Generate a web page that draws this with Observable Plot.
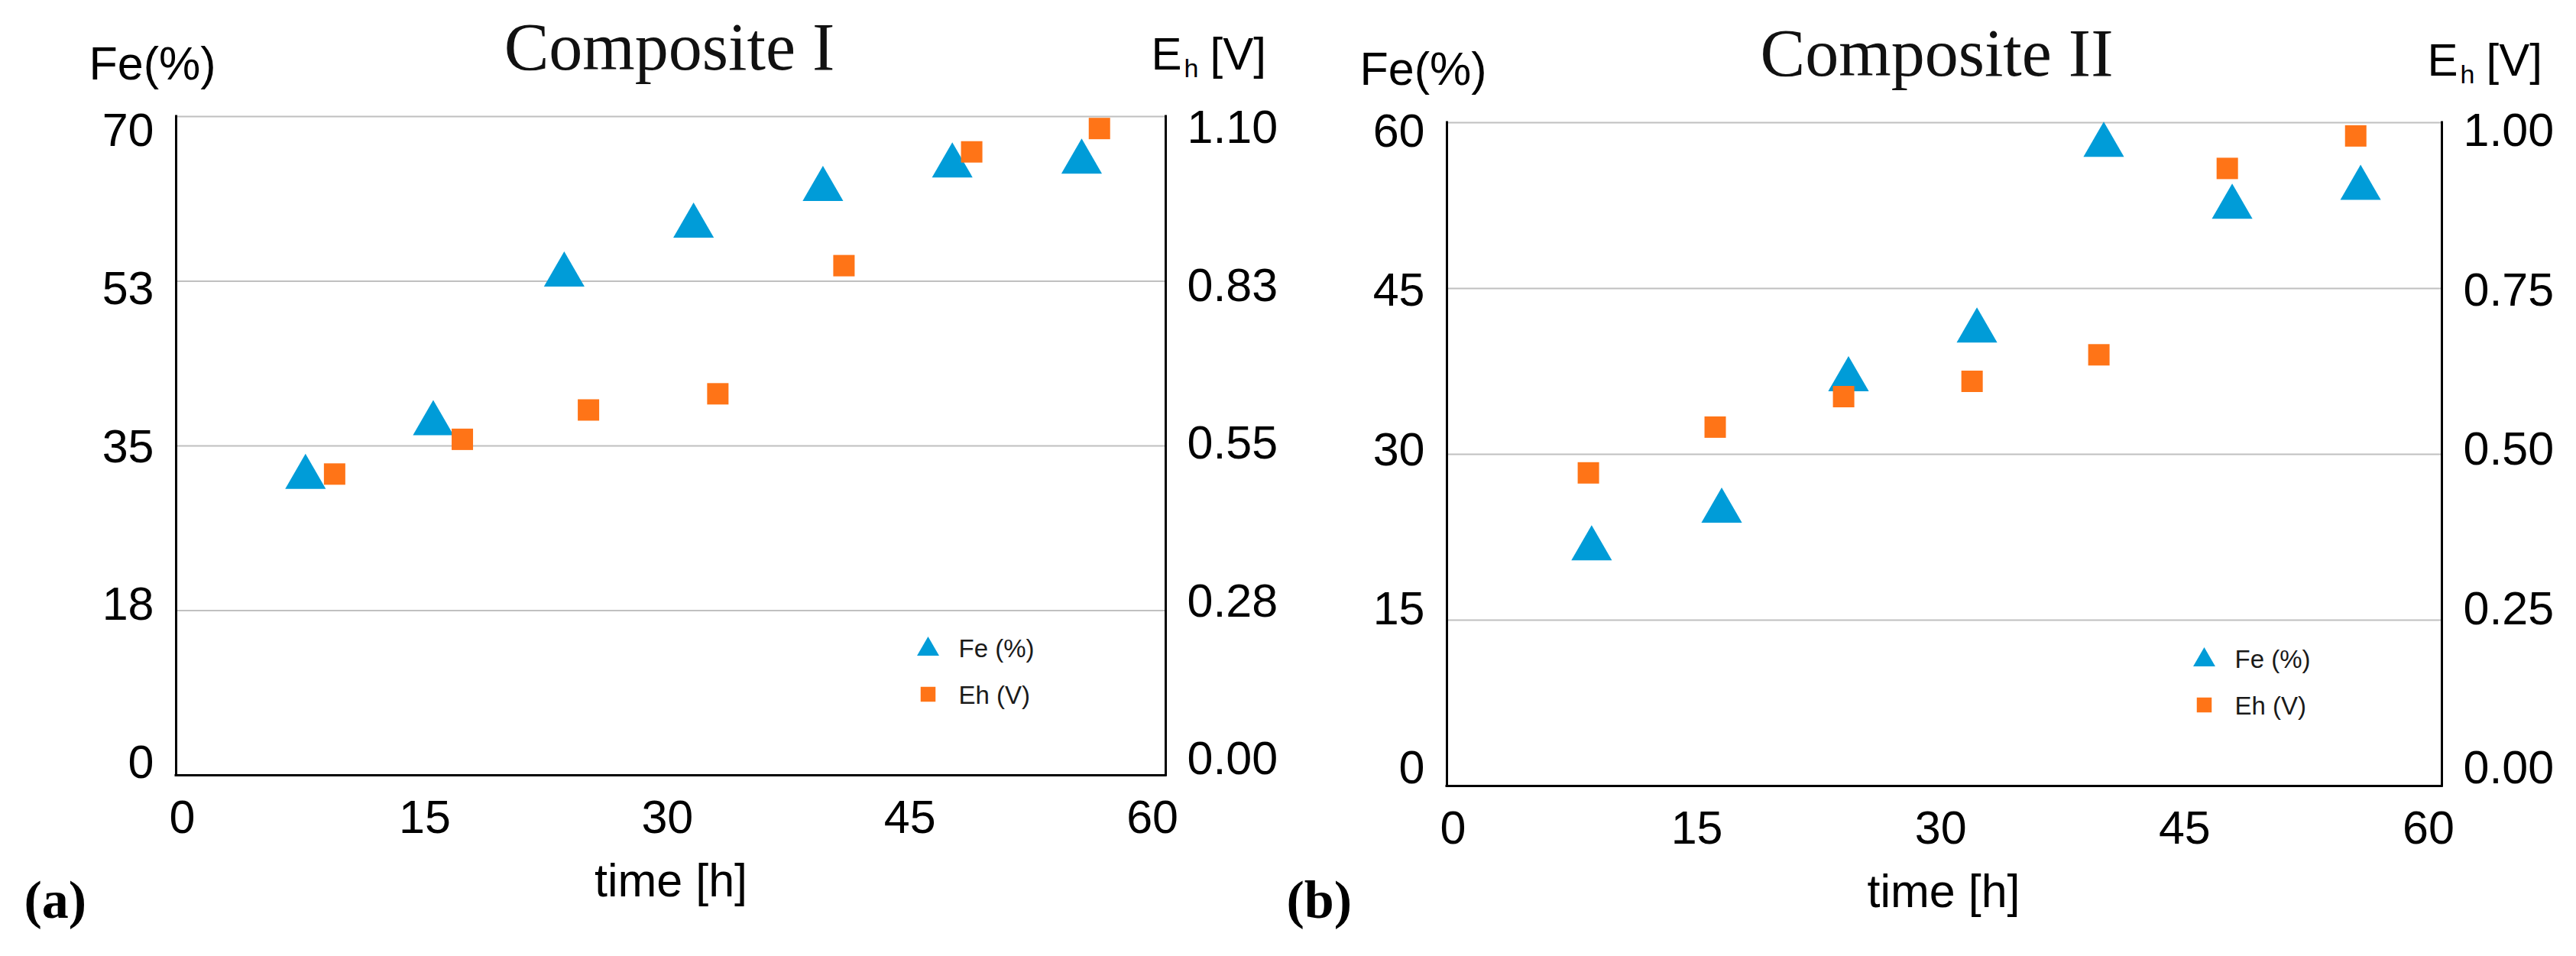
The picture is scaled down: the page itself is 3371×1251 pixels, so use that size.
<!DOCTYPE html>
<html>
<head>
<meta charset="utf-8">
<script src="https://cdn.jsdelivr.net/npm/d3@7"></script>
<script src="https://cdn.jsdelivr.net/npm/@observablehq/plot@0.6"></script>
<style>
  html, body { margin: 0; padding: 0; background: #fff; }
  #wrap { display: flex; width: 3371px; height: 1251px; background: #fff; }
</style>
</head>
<body>
<div id="wrap"></div>
<script>
// ---------- data ----------
const timeTicks = [0, 15, 30, 45, 60];
const legendLabels = ["Fe (%)", "Eh (V)"];

// Panel (a) – Composite I
const titleA = "Composite I";
const timeFeA = [8.0, 15.9, 24.0, 32.0, 40.0, 48.0, 56.0];
const feA     = [32.3, 38.0, 53.8, 59.0, 62.9, 65.4, 65.8];
const timeEhA = [9.8, 17.7, 25.5, 33.5, 41.3, 49.2, 57.1];
const ehA     = [0.503, 0.561, 0.610, 0.637, 0.851, 1.041, 1.080];
const feTicksA = [0, 17.5, 35, 52.5, 70];
const feTickLabelsA = ["0", "18", "35", "53", "70"];
const ehTicksA = [0, 0.275, 0.55, 0.825, 1.10];
const ehTickLabelsA = ["0.00", "0.28", "0.55", "0.83", "1.10"];

// Panel (b) – Composite II
const titleB = "Composite II";
const timeFeB = [8.9, 16.9, 24.7, 32.6, 40.4, 48.3, 56.2];
const feB     = [22.0, 25.4, 37.3, 41.7, 58.5, 52.9, 54.6];
const timeEhB = [8.7, 16.5, 24.4, 32.3, 40.1, 48.0, 55.9];
const ehB     = [0.472, 0.541, 0.587, 0.610, 0.650, 0.931, 0.980];
const feTicksB = [0, 15, 30, 45, 60];
const feTickLabelsB = ["0", "15", "30", "45", "60"];
const ehTicksB = [0, 0.25, 0.5, 0.75, 1.0];
const ehTickLabelsB = ["0.00", "0.25", "0.50", "0.75", "1.00"];

// ---------- styling ----------
const BLUE = "#009cd8";
const ORANGE = "#ff7417";
const GRID = "#c0c0c0";
const SANS = "'Liberation Sans', Arial, sans-serif";
const SERIF = "'Liberation Serif', 'Times New Roman', serif";
const X_MAX = 61.2;

// triangle centred on its bounding box (like a spreadsheet marker)
const triangle = {
  draw(context, size) {
    const r = Math.sqrt(size / Math.PI);
    const w = 1.155 * r;
    context.moveTo(0, -r);
    context.lineTo(w, r);
    context.lineTo(-w, r);
    context.closePath();
  }
};

function panel(cfg) {
  const k = cfg.feMax / cfg.ehMax;
  const feData = cfg.timeFe.map((t, i) => ({t, v: cfg.fe[i]}));
  const ehData = cfg.timeEh.map((t, i) => ({t, v: cfg.eh[i] * k}));
  const n = cfg.feTicks.length - 1;

  const leftLabels = cfg.feTicks.map((v, i) =>
    Plot.text([cfg.feLabels[i]], {
      y: [v], text: (d) => d, frameAnchor: "left", textAnchor: "end",
      dx: -29, dy: -cfg.offBotL + (cfg.offBotL + cfg.offTopL) * (i / n),
      lineAnchor: "middle", fontSize: 61, fill: "#000"
    }));
  const rightLabels = cfg.ehTicks.map((v, i) =>
    Plot.text([cfg.ehLabels[i]], {
      y: [v * k], text: (d) => d, frameAnchor: "right", textAnchor: "start",
      dx: 28, dy: -cfg.offBotR + (cfg.offBotR + cfg.offTopR) * (i / n),
      lineAnchor: "middle", fontSize: 61, fill: "#000"
    }));

  return Plot.plot({
    width: cfg.width,
    height: 1251,
    marginLeft: cfg.ml,
    marginRight: cfg.mr,
    marginTop: cfg.mt,
    marginBottom: cfg.mb,
    style: {background: "#fff", fontFamily: SANS, overflow: "visible"},
    x: {domain: [0, X_MAX], axis: null},
    y: {domain: [0, cfg.feMax], axis: null},
    marks: [
      Plot.ruleY(cfg.feTicks.filter((v) => v > 0), {stroke: GRID, strokeWidth: 2.2}),
      Plot.ruleX([0, X_MAX], {stroke: "#000", strokeWidth: 3, strokeLinecap: "square"}),
      Plot.ruleY([0], {stroke: "#000", strokeWidth: 3, strokeLinecap: "square"}),
      Plot.dot(feData, {x: "t", y: "v", symbol: triangle, r: 23, fill: BLUE, stroke: "none"}),
      Plot.dot(ehData, {x: "t", y: "v", symbol: "square", r: 15.8, fill: ORANGE, stroke: "none"}),
      ...leftLabels,
      ...rightLabels,
      Plot.text(timeTicks, {x: (d) => d, text: (d) => String(d), frameAnchor: "bottom",
        dx: 8, dy: 56, lineAnchor: "middle", fontSize: 61, fill: "#000"}),
      // axis titles
      Plot.text(["time [h]"], {text: (d) => d, frameAnchor: "bottom", dx: cfg.timeDx, dy: 158,
        lineAnchor: "bottom", fontSize: 61, fill: "#000"}),
      Plot.text(["Fe(%)"], {text: (d) => d, frameAnchor: "top-left", dx: -114, dy: cfg.feLabDy,
        textAnchor: "start", lineAnchor: "bottom", fontSize: 61, fill: "#000"}),
      Plot.text(["E"], {text: (d) => d, frameAnchor: "top-right", dx: -19, dy: -62,
        textAnchor: "start", lineAnchor: "bottom", fontSize: 60, fill: "#000"}),
      Plot.text(["h"], {text: (d) => d, frameAnchor: "top-right", dx: 24, dy: -52,
        textAnchor: "start", lineAnchor: "bottom", fontSize: 34, fill: "#000"}),
      Plot.text(["[V]"], {text: (d) => d, frameAnchor: "top-right", dx: 58, dy: -62,
        textAnchor: "start", lineAnchor: "bottom", fontSize: 60, fill: "#000"}),
      // title
      Plot.text([cfg.title], {text: (d) => d, frameAnchor: "top", dx: cfg.titleDx, dy: -62,
        lineAnchor: "bottom", fontSize: 88, fontFamily: SERIF, fill: "#111"}),
      // panel letter
      Plot.text([cfg.letter], {text: (d) => d, frameAnchor: "bottom-left", dx: cfg.letterDx, dy: cfg.letterDy,
        textAnchor: "start", lineAnchor: "bottom", fontSize: 70, fontWeight: "bold", fontFamily: SERIF, fill: "#000"}),
      // legend
      Plot.dot([0], {frameAnchor: "bottom-right", dx: -311, dy: -169, symbol: triangle, r: 12.5, fill: BLUE, stroke: "none"}),
      Plot.dot([0], {frameAnchor: "bottom-right", dx: -311, dy: -106, symbol: "square", r: 11, fill: ORANGE, stroke: "none"}),
      Plot.text([legendLabels[0]], {text: (d) => d, frameAnchor: "bottom-right", dx: -271, dy: -165,
        textAnchor: "start", lineAnchor: "middle", fontSize: 33, fill: "#1a1a1a"}),
      Plot.text([legendLabels[1]], {text: (d) => d, frameAnchor: "bottom-right", dx: -271, dy: -104,
        textAnchor: "start", lineAnchor: "middle", fontSize: 33, fill: "#1a1a1a"})
    ]
  });
}

const wrap = document.getElementById("wrap");
wrap.append(panel({
  width: 1680, ml: 230, mr: 155, mt: 152, mb: 237,
  title: titleA, letter: "(a)", titleDx: -2, timeDx: 0, feLabDy: -49,
  letterDx: -199, letterDy: 186,
  feMax: 70, ehMax: 1.10,
  timeFe: timeFeA, fe: feA, timeEh: timeEhA, eh: ehA,
  feTicks: feTicksA, feLabels: feTickLabelsA, ehTicks: ehTicksA, ehLabels: ehTickLabelsA,
  offTopL: 19, offBotL: 16, offTopR: 15, offBotR: 21
}));
wrap.append(panel({
  width: 1691, ml: 213, mr: 176, mt: 160, mb: 223,
  title: titleB, letter: "(b)", titleDx: -10, timeDx: -1, feLabDy: -50,
  letterDx: -210, letterDy: 172,
  feMax: 60, ehMax: 1.0,
  timeFe: timeFeB, fe: feB, timeEh: timeEhB, eh: ehB,
  feTicks: feTicksB, feLabels: feTickLabelsB, ehTicks: ehTicksB, ehLabels: ehTickLabelsB,
  offTopL: 12, offBotL: 23, offTopR: 11, offBotR: 23
}));
</script>
</body>
</html>
